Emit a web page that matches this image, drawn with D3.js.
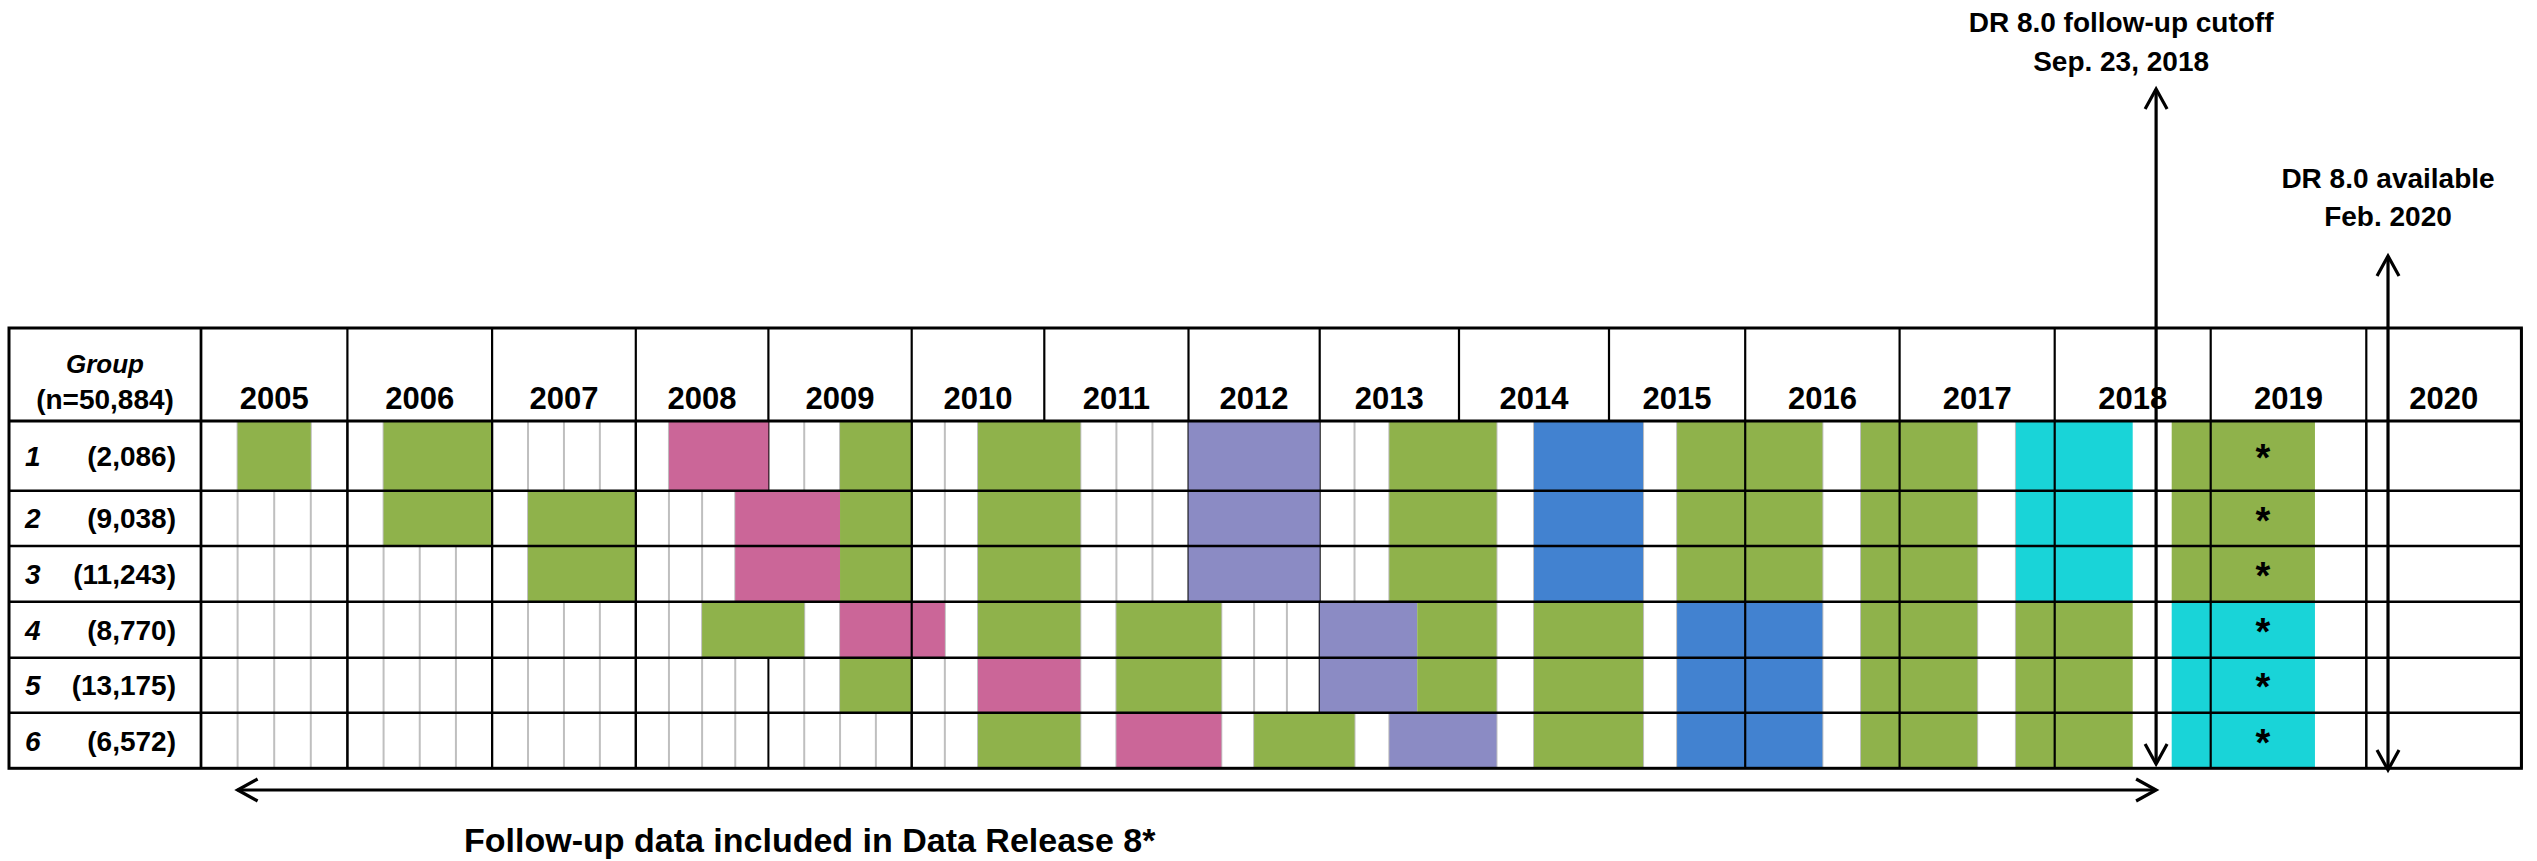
<!DOCTYPE html>
<html>
<head>
<meta charset="utf-8">
<script src="https://cdn.jsdelivr.net/npm/d3@7"></script>
<style>
  html, body { margin: 0; padding: 0; background: #fff; }
  svg { display: block; }
  text { font-family: 'Liberation Sans', Arial, sans-serif; font-weight: bold; fill: #000; }
</style>
</head>
<body>
<svg id="chart"></svg>
<script>
// ---- data ----
const yearLabels = ['2005', '2006', '2007', '2008', '2009', '2010', '2011', '2012',
  '2013', '2014', '2015', '2016', '2017', '2018', '2019', '2020'];
const groupIds = ['1', '2', '3', '4', '5', '6'];
const groupCounts = ['(2,086)', '(9,038)', '(11,243)', '(8,770)', '(13,175)', '(6,572)'];
const totalLabel = '(n=50,884)';

// questionnaire waves per group: [start, end, type], decimal years
const group1Waves = [
  [2005.25, 2005.75, 'annual'], [2006.25, 2007, 'annual'], [2008.25, 2009, 'dfu1'],
  [2009.5, 2010, 'annual'], [2010.5, 2011.25, 'annual'], [2012, 2013, 'dfu2'],
  [2013.5, 2014.25, 'annual'], [2014.5, 2015.25, 'dfu3'], [2015.5, 2016.5, 'annual'],
  [2016.75, 2017.5, 'annual'], [2017.75, 2018.5, 'dfu4'], [2018.75, 2019.67, 'annual']
];
const group2Waves = [
  [2006.25, 2007, 'annual'], [2007.25, 2008, 'annual'], [2008.75, 2009.5, 'dfu1'],
  [2009.5, 2010, 'annual'], [2010.5, 2011.25, 'annual'], [2012, 2013, 'dfu2'],
  [2013.5, 2014.25, 'annual'], [2014.5, 2015.25, 'dfu3'], [2015.5, 2016.5, 'annual'],
  [2016.75, 2017.5, 'annual'], [2017.75, 2018.5, 'dfu4'], [2018.75, 2019.67, 'annual']
];
const group3Waves = [
  [2007.25, 2008, 'annual'], [2008.75, 2009.5, 'dfu1'],
  [2009.5, 2010, 'annual'], [2010.5, 2011.25, 'annual'], [2012, 2013, 'dfu2'],
  [2013.5, 2014.25, 'annual'], [2014.5, 2015.25, 'dfu3'], [2015.5, 2016.5, 'annual'],
  [2016.75, 2017.5, 'annual'], [2017.75, 2018.5, 'dfu4'], [2018.75, 2019.67, 'annual']
];
const group4Waves = [
  [2008.5, 2009.25, 'annual'], [2009.5, 2010.25, 'dfu1'], [2010.5, 2011.25, 'annual'],
  [2011.5, 2012.25, 'annual'], [2013, 2013.7, 'dfu2'], [2013.7, 2014.25, 'annual'],
  [2014.5, 2015.25, 'annual'], [2015.5, 2016.5, 'dfu3'], [2016.75, 2017.5, 'annual'],
  [2017.75, 2018.5, 'annual'], [2018.75, 2019.67, 'dfu4']
];
const group5Waves = [
  [2009.5, 2010, 'annual'], [2010.5, 2011.25, 'dfu1'],
  [2011.5, 2012.25, 'annual'], [2013, 2013.7, 'dfu2'], [2013.7, 2014.25, 'annual'],
  [2014.5, 2015.25, 'annual'], [2015.5, 2016.5, 'dfu3'], [2016.75, 2017.5, 'annual'],
  [2017.75, 2018.5, 'annual'], [2018.75, 2019.67, 'dfu4']
];
const group6Waves = [
  [2010.5, 2011.25, 'annual'], [2011.5, 2012.25, 'dfu1'], [2012.5, 2013.25, 'annual'],
  [2013.5, 2014.25, 'dfu2'], [2014.5, 2015.25, 'annual'], [2015.5, 2016.5, 'dfu3'],
  [2016.75, 2017.5, 'annual'], [2017.75, 2018.5, 'annual'], [2018.75, 2019.67, 'dfu4']
];
const allWaves = [group1Waves, group2Waves, group3Waves, group4Waves, group5Waves, group6Waves];

const starYear = 2019;          // waves still running in 2019 carry a '*'
const followUpStart = 2005.25;
const cutoffDate = 2018.65;     // DR 8.0 follow-up cutoff
const releaseDate = 2020.14;    // DR 8.0 available

// ---- layout ----
const width = 2537;
const height = 861;
const tableLeft = 9;
const groupColRight = 201;
const yearColWidths = [146.4, 144.7, 143.7, 132.6, 143.3, 132.6, 144.2, 131.2,
  139.3, 150, 136.2, 154.4, 155.1, 156, 155.6, 155.1];
const headerTop = 328;
const headerBottom = 421;
const rowHeights = [69.7, 55.3, 55.7, 56, 55, 55.6];
const gridQuarterEnd = 2018;    // light quarter lines stop here
const ruledYears = [2005, 2006, 2007, 2008, 2010, 2016, 2017, 2018, 2019, 2020, 2021];

const colors = {
  annual: '#8fb24b',
  dfu1: '#cb6698',
  dfu2: '#8b8bc4',
  dfu3: '#4282d0',
  dfu4: '#19d4d8'
};

const yearEdges = d3.range(2005, 2022);
const xEdges = [groupColRight, ...Array.from(d3.cumsum(yearColWidths), (d) => groupColRight + d)];
const x = d3.scaleLinear().domain(yearEdges).range(xEdges);
const tableRight = x(2021);

const rowTops = [headerBottom, ...Array.from(d3.cumsum(rowHeights), (d) => headerBottom + d)];
const yTop = d3.scaleOrdinal().domain(groupIds).range(rowTops.slice(0, 6));
const rowH = d3.scaleOrdinal().domain(groupIds).range(rowHeights);
const tableBottom = rowTops[6];

const svg = d3.select('#chart').attr('width', width).attr('height', height);
svg.append('rect').attr('width', width).attr('height', height).attr('fill', '#fff');

const vline = (g, xv, y1, y2, stroke, w) => {
  g.append('line')
    .attr('x1', xv).attr('x2', xv)
    .attr('y1', y1).attr('y2', y2)
    .attr('stroke', stroke).attr('stroke-width', w);
};

// light quarter lines
const quarters = [];
d3.range(2005, gridQuarterEnd).forEach((yr) => {
  [0.25, 0.5, 0.75].forEach((q) => quarters.push(yr + q));
});
const under = svg.append('g');
quarters.forEach((q) => vline(under, x(q), headerBottom, tableBottom, '#bfbfbf', 2));
// year borders (partly hidden by waves)
yearEdges.forEach((yr) => vline(under, x(yr), headerBottom, tableBottom, '#000', 2));

// waves
const waveG = svg.append('g');
groupIds.forEach((g, i) => {
  waveG.selectAll('rect.g' + g)
    .data(allWaves[i])
    .enter()
    .append('rect')
    .attr('class', 'g' + g)
    .attr('x', (d) => x(d[0]))
    .attr('width', (d) => x(d[1]) - x(d[0]))
    .attr('y', yTop(g))
    .attr('height', rowH(g))
    .attr('fill', (d) => colors[d[2]]);
});

// ruled year borders drawn over waves
const over = svg.append('g');
ruledYears.forEach((yr) => vline(over, x(yr), headerBottom, tableBottom, '#000', 2.2));

// header year borders
yearEdges.forEach((yr) => vline(over, x(yr), headerTop, headerBottom, '#000', 2.2));

// row borders
rowTops.slice(1, 6).forEach((yv) => {
  over.append('line')
    .attr('x1', tableLeft).attr('x2', tableRight)
    .attr('y1', yv).attr('y2', yv)
    .attr('stroke', '#000').attr('stroke-width', 2.4);
});
over.append('line')
  .attr('x1', tableLeft).attr('x2', tableRight)
  .attr('y1', headerBottom).attr('y2', headerBottom)
  .attr('stroke', '#000').attr('stroke-width', 3);
vline(over, groupColRight, headerTop, tableBottom, '#000', 2.6);
over.append('rect')
  .attr('x', tableLeft).attr('y', headerTop)
  .attr('width', tableRight - tableLeft).attr('height', tableBottom - headerTop)
  .attr('fill', 'none').attr('stroke', '#000').attr('stroke-width', 3);

// header text
const labels = svg.append('g');
labels.append('text')
  .attr('x', (tableLeft + groupColRight) / 2).attr('y', 373)
  .attr('text-anchor', 'middle').style('font-size', '26px').style('font-style', 'italic')
  .text('Group');
labels.append('text')
  .attr('x', (tableLeft + groupColRight) / 2).attr('y', 409)
  .attr('text-anchor', 'middle').style('font-size', '28px')
  .text(totalLabel);
labels.selectAll('text.year')
  .data(yearLabels)
  .enter()
  .append('text')
  .attr('class', 'year')
  .attr('x', (d) => (x(+d) + x(+d + 1)) / 2)
  .attr('y', 409)
  .attr('text-anchor', 'middle')
  .style('font-size', '31px')
  .text((d) => d);

// row labels
groupIds.forEach((g, i) => {
  const cy = yTop(g) + rowH(g) / 2;
  labels.append('text')
    .attr('x', 25).attr('y', cy).attr('dy', '0.36em')
    .style('font-size', '28px').style('font-style', 'italic')
    .text(g);
  labels.append('text')
    .attr('x', 176).attr('y', cy).attr('dy', '0.36em')
    .attr('text-anchor', 'end').style('font-size', '28px')
    .text(groupCounts[i]);
  allWaves[i]
    .filter((d) => d[1] > starYear)
    .forEach((d) => {
      labels.append('text')
        .attr('x', x((Math.max(d[0], starYear) + d[1]) / 2))
        .attr('y', cy).attr('dy', '0.4em')
        .attr('text-anchor', 'middle').style('font-size', '38px')
        .text('*');
    });
});

// arrows
const arrows = svg.append('g')
  .attr('stroke', '#000').attr('stroke-width', 3.2).attr('fill', 'none');
const head = (px, py, dir) => {
  const a = 11, b = 20;
  let p;
  if (dir === 'up') p = [[px - a, py + b], [px, py], [px + a, py + b]];
  if (dir === 'down') p = [[px - a, py - b], [px, py], [px + a, py - b]];
  if (dir === 'left') p = [[px + b, py - a], [px, py], [px + b, py + a]];
  if (dir === 'right') p = [[px - b, py - a], [px, py], [px - b, py + a]];
  arrows.append('path').attr('d', d3.line()(p));
};
const cutX = x(cutoffDate);
const relX = x(releaseDate);
arrows.append('line').attr('x1', cutX).attr('x2', cutX).attr('y1', 89).attr('y2', 764);
head(cutX, 89, 'up');
head(cutX, 764, 'down');
arrows.append('line').attr('x1', relX).attr('x2', relX).attr('y1', 256).attr('y2', 770);
head(relX, 256, 'up');
head(relX, 770, 'down');
const spanY = 790;
arrows.append('line').attr('x1', x(followUpStart)).attr('x2', cutX).attr('y1', spanY).attr('y2', spanY);
head(x(followUpStart), spanY, 'left');
head(cutX, spanY, 'right');

// annotations
labels.append('text').attr('x', cutX - 35).attr('y', 32).attr('text-anchor', 'middle')
  .style('font-size', '28px').text('DR 8.0 follow-up cutoff');
labels.append('text').attr('x', cutX - 35).attr('y', 71).attr('text-anchor', 'middle')
  .style('font-size', '28px').text('Sep. 23, 2018');
labels.append('text').attr('x', relX).attr('y', 188).attr('text-anchor', 'middle')
  .style('font-size', '28px').text('DR 8.0 available');
labels.append('text').attr('x', relX).attr('y', 226).attr('text-anchor', 'middle')
  .style('font-size', '28px').text('Feb. 2020');
labels.append('text').attr('x', 464).attr('y', 852)
  .style('font-size', '34px').text('Follow-up data included in Data Release 8*');
</script>
</body>
</html>
